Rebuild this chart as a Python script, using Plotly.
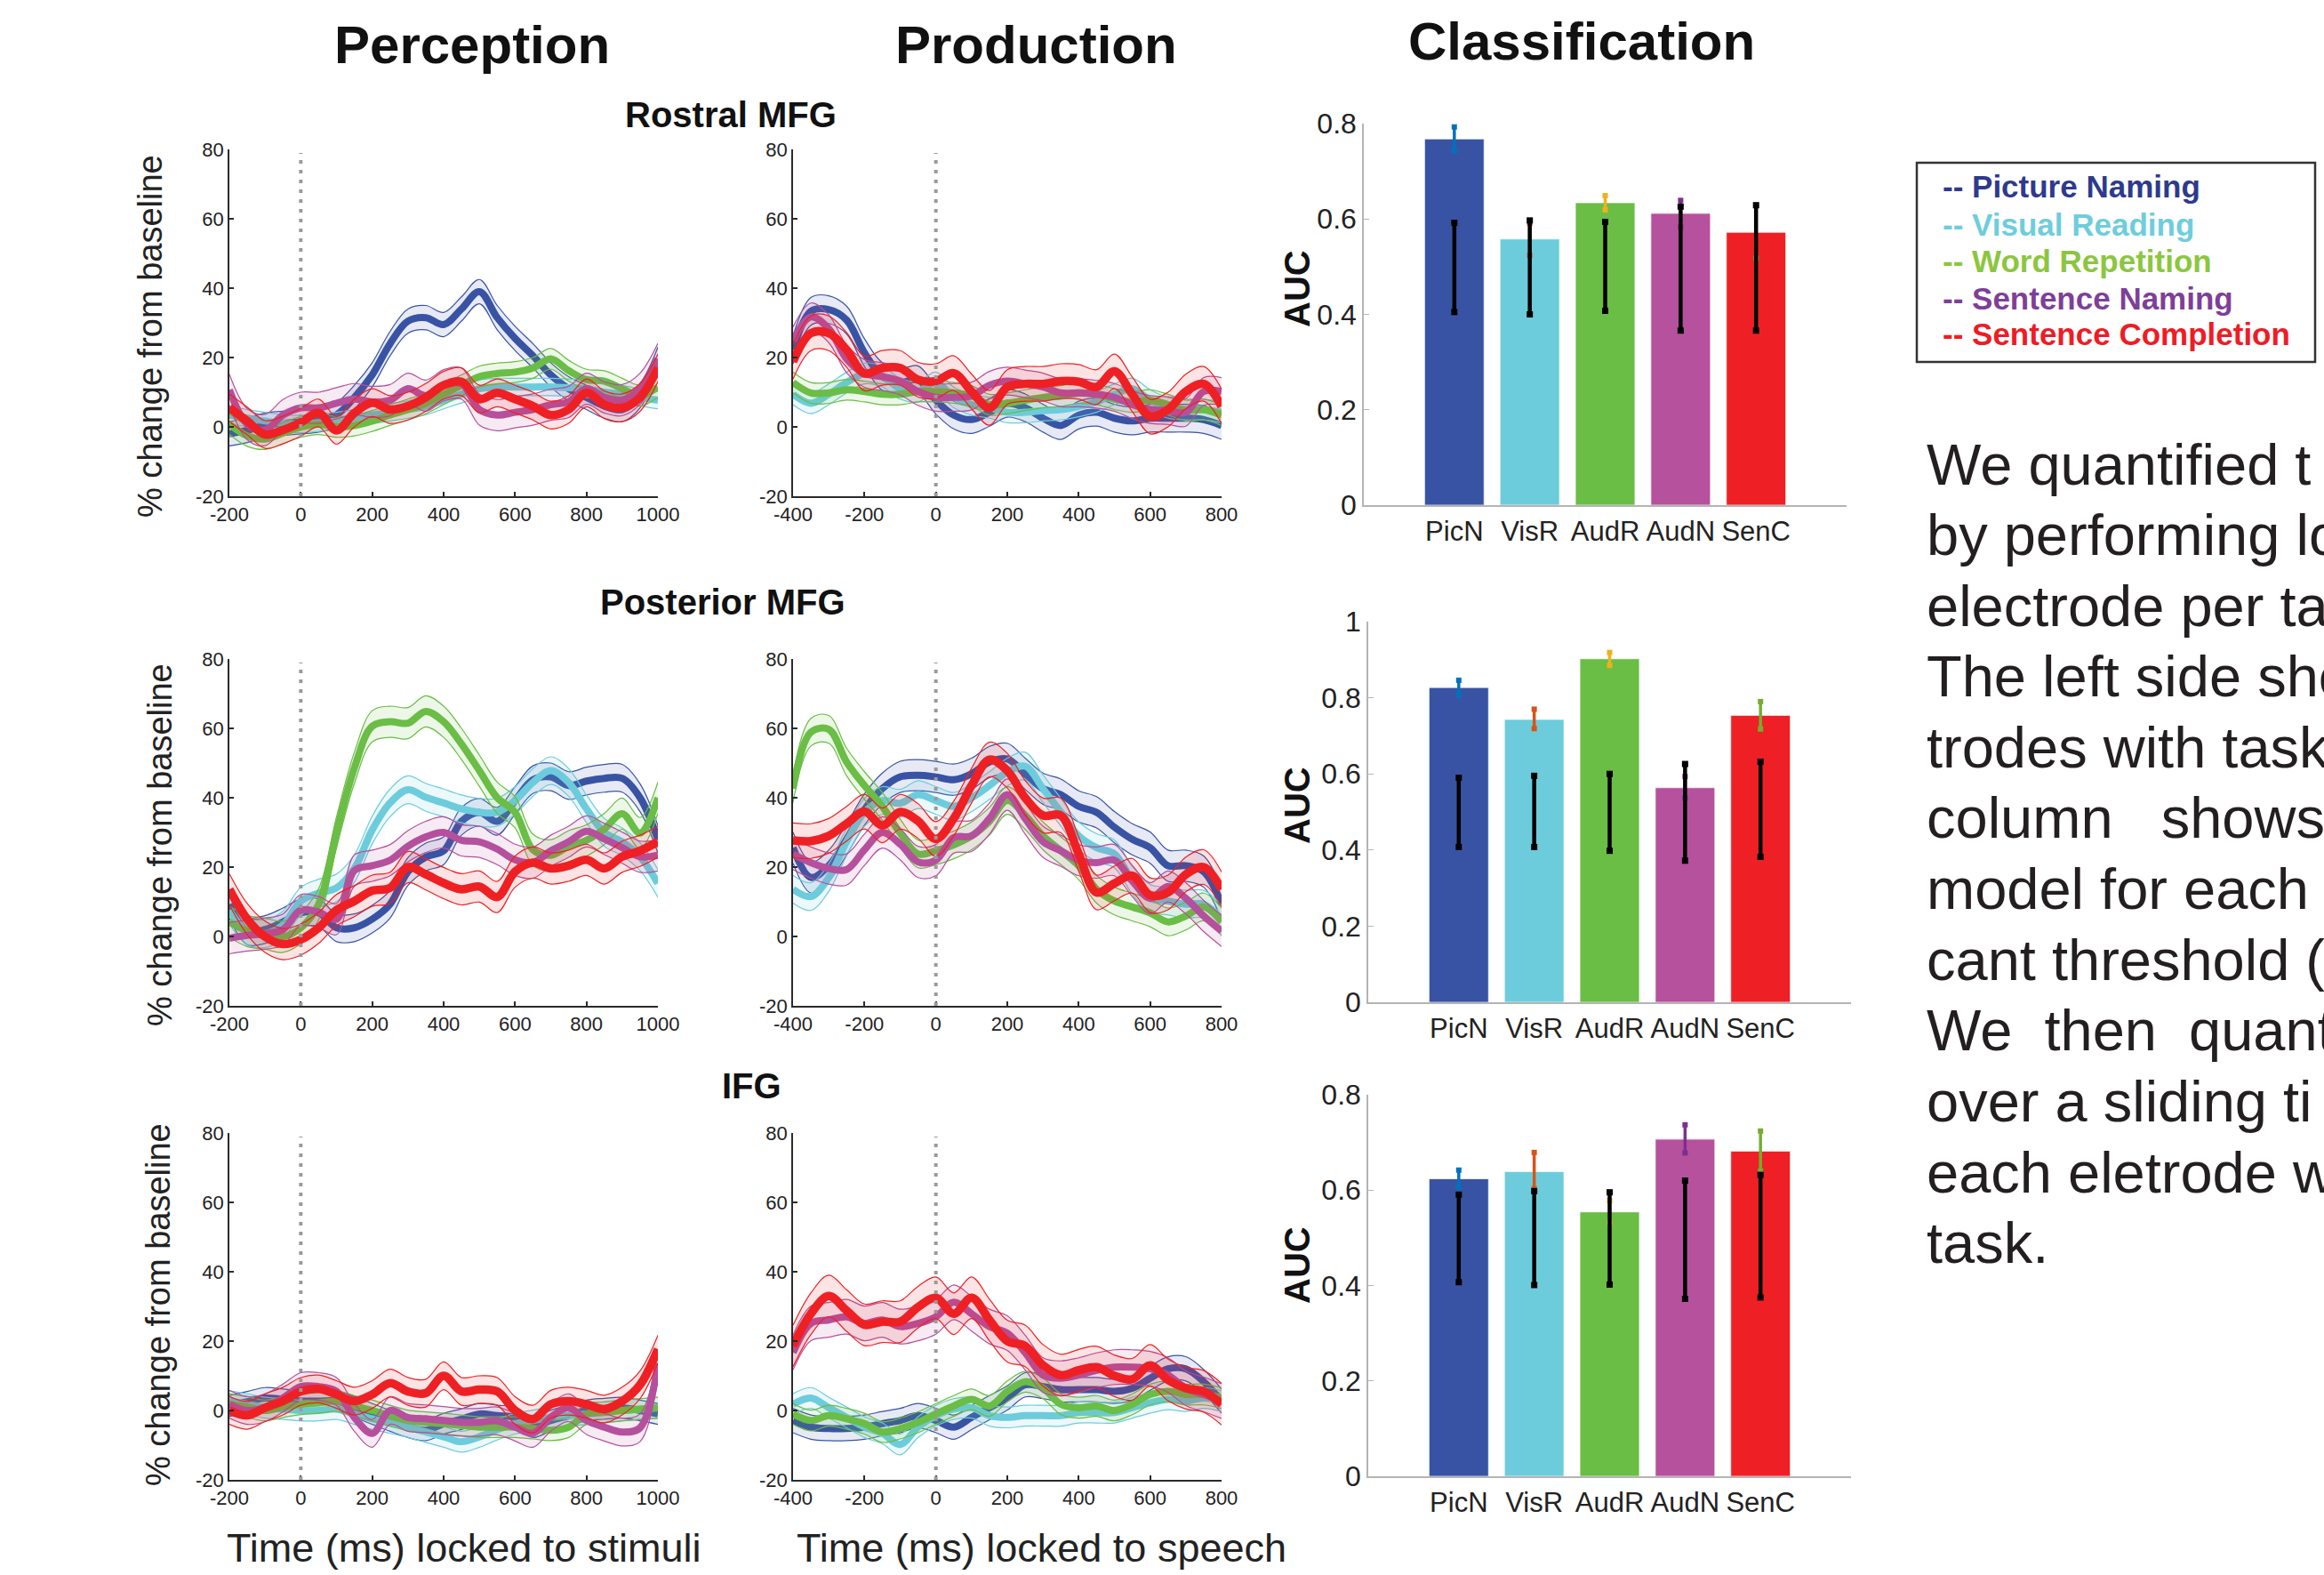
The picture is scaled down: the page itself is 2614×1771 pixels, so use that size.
import plotly.graph_objects as go

W, H = 2614, 1771

# ---------------- time axes ----------------
t_perc = list(range(-200, 1001, 50))
t_prod = list(range(-400, 801, 50))

tasks = ["Picture Naming", "Visual Reading", "Word Repetition", "Sentence Naming", "Sentence Completion"]

# ---------------- Perception, Rostral MFG ----------------
perc_rostral_picn = [-2, -1, 0.5, 1, 1.5, 2, 3.5, 8.5, 15, 24, 30.5, 31.5, 29.5, 34, 39, 31.5, 25.5, 20.5, 15, 11, 8.5, 6, 5, 9, 19.5]
perc_rostral_visr = [3.4, 2.5, 1.7, 1, 0.8, 1.2, 1.7, 2.5, 3.4, 4.2, 5, 6, 7.7, 9.4, 11, 11.5, 11.5, 11.5, 11.5, 11.3, 11, 10, 9.4, 8.5, 7.7]
perc_rostral_audr = [0.8, -2.6, -3.5, -1.8, 0, 0.8, 0, 0.4, 1.7, 3.4, 5, 6.8, 9.4, 12, 14.5, 15.4, 15.8, 17, 19.6, 16.2, 13.6, 13.2, 11, 9, 11.5]
perc_rostral_audn = [10.7, 0.8, -0.9, 3.4, 5.5, 5.5, 6.8, 8, 7.2, 7.7, 11, 9, 12, 12.5, 5, 3.4, 4.2, 5, 6.4, 7.2, 11, 8.5, 7.7, 11, 19.6]
perc_rostral_senc = [5.5, 1.7, -2.2, -0.9, 1.3, 4, -1, 4, 7, 5, 6, 8.5, 12, 13, 8, 9.8, 8, 6, 3.4, 5, 9.8, 6.4, 5.5, 8.5, 17]
sem_perc_rostral = [3.5, 2.5, 3.0, 4.5, 4.0]

# ---------------- Production, Rostral MFG ----------------
prod_rostral_picn = [22.2, 33.3, 33.8, 30.8, 21.4, 14.5, 12.8, 13.6, 7.7, 3.4, 2.1, 4.2, 6.8, 5.5, 2.5, 0.4, 3.4, 4.2, 2.5, 1.7, 2.5, 2.5, 2.5, 2.1, 0.4]
prod_rostral_visr = [9.4, 6.8, 9.4, 12.8, 15.4, 14.5, 11, 10.2, 12.8, 8.5, 6.4, 5.5, 4.2, 4.2, 4.7, 5, 5.9, 7.2, 9.4, 11, 7.7, 5.5, 5, 5, 4.2]
prod_rostral_audr = [12.8, 9.8, 9.8, 10.7, 10.2, 9.4, 9.4, 10.2, 10.2, 9.8, 8.9, 6.4, 6.8, 7.7, 8.5, 8.9, 9.8, 9.4, 8, 7.2, 7.7, 6.4, 4.7, 5, 3.4]
prod_rostral_audn = [24.8, 31.7, 28.3, 19.6, 15.4, 14.5, 13.2, 10.2, 8.5, 8.5, 8.9, 12, 13.2, 12.4, 11.5, 9.8, 9.8, 9.4, 8.5, 6.4, 5, 4.7, 4.2, 10.2, 10.2]
prod_rostral_senc = [18.8, 27, 27, 22.2, 15.4, 17, 17, 13.6, 13.2, 15.5, 10.2, 5.5, 11.5, 12.4, 12.4, 13.2, 13, 11.5, 16, 9.4, 3, 5, 10.2, 12.4, 5.9]
sem_prod_rostral = [4.0, 3.0, 3.0, 4.0, 5.0]

# ---------------- Perception, Posterior MFG ----------------
perc_posterior_picn = [9.3, 1.6, 2, 4.2, 6.8, 6.8, 2.5, 2.5, 5, 9.3, 18.7, 22.9, 24.7, 33.2, 35.8, 33.2, 39.2, 45.2, 46, 43.5, 44.8, 45.6, 45.6, 40, 28]
perc_posterior_visr = [7.6, 1.6, 0.8, 3.3, 10.2, 12.5, 14, 19.6, 30.7, 38.5, 42.3, 40.1, 38.5, 36.8, 35.8, 35.8, 39.2, 44.4, 47.8, 44.4, 36.8, 30, 27.3, 23, 15.3]
perc_posterior_audr = [4.2, 1.6, 0.8, -0.1, 2.5, 9.3, 30, 48.6, 60.6, 61.9, 61.5, 64.9, 61.9, 55.5, 47.8, 40, 35.8, 25, 23.4, 26, 27.7, 31, 35.4, 29.8, 40]
perc_posterior_audn = [-0.5, 0.3, 0.8, 2, 7.6, 7, 5, 19, 20.4, 22, 26, 28.7, 30, 27.7, 27.3, 25.2, 22.1, 21.3, 24.7, 27.3, 30.3, 28.1, 25.6, 23, 23.4]
perc_posterior_senc = [13.6, 5, -0.1, -2.2, -0.9, 2.5, 7.6, 10.2, 13.2, 14, 20, 17.9, 15.4, 13.6, 14.4, 11.4, 18.7, 21.3, 19.6, 20.4, 22.1, 19.6, 23, 24.7, 27.3]
sem_perc_posterior = [4.0, 4.0, 4.5, 4.5, 4.5]

# ---------------- Production, Posterior MFG ----------------
prod_posterior_picn = [25.6, 17, 20.4, 28, 36.6, 42.6, 46, 46.5, 46, 45.2, 46.9, 50.3, 51.2, 46.9, 42.6, 40.9, 37.5, 35.8, 31.5, 28, 25.6, 20.4, 20.4, 18.7, 9.3]
prod_posterior_visr = [13.6, 11.5, 17, 27.3, 35.8, 39.2, 38.4, 40.9, 39.2, 37.5, 40, 43.5, 47.4, 49.1, 42.6, 35.8, 29, 25.6, 23.8, 16.2, 11, 10.2, 9.3, 9.3, 5]
prod_posterior_audr = [42.6, 58.9, 59.7, 50.3, 43.5, 37.5, 29.8, 23.8, 24.7, 26.4, 29, 33.2, 39.2, 34.9, 29, 24.7, 20.4, 13.6, 10.2, 8.5, 6.8, 4.2, 5.9, 8.5, 4.2]
prod_posterior_audn = [23.8, 21.3, 19.6, 19.3, 25, 30, 26.6, 21.5, 22, 28.5, 29, 34, 40.9, 34, 27.3, 24.7, 22, 21.3, 22, 16, 11, 14.4, 11, 5.9, 1.6]
prod_posterior_senc = [27.7, 27.5, 29, 32.5, 36, 32, 35.9, 33.3, 28.1, 34, 43.5, 51, 47.8, 40, 34.9, 34.9, 23.8, 12.7, 15.3, 17.5, 11.9, 12.7, 17.9, 20, 13.6]
sem_prod_posterior = [4.5, 4.0, 4.0, 4.5, 5.0]

# ---------------- Perception, IFG ----------------
perc_ifg_picn = [1.3, 2.5, 3.6, 3.2, 2.7, 2.7, 2.7, 1, -1, -3, -4.8, -5.7, -3.8, -2.5, -1, -1.5, -2, -4.8, -2.9, -1.5, 0, 0.5, 0.8, 0, -1]
perc_ifg_visr = [2.7, 1.8, 0.8, 0.4, 0, 0, 0.4, -1, -2.4, -3.6, -4.8, -6.2, -7.6, -9, -7.6, -5.5, -3.8, -2.9, -2, -1.5, -1, -0.5, 0, 0.4, 0.8]
perc_ifg_audr = [1.8, 1, 0, 1, 1.8, 2.2, 2.7, 1.3, 0, -1.5, -2.9, -3.4, -3.8, -4.3, -4.8, -4.8, -4.8, -5.2, -5.7, -4.8, -1, -0.5, 0, 0.4, 0.8]
perc_ifg_audn = [1.8, 0, 0.8, 3.6, 6.9, 6.9, 5.5, -2, -6.6, 0, -2, -2.4, -2.9, -3.4, -3.4, -3, -4.8, -6.6, -2, 0.8, -2.9, -4.8, -6.2, -5, 13.5]
perc_ifg_senc = [0, -1.4, 0.8, 2.7, 5.5, 6.2, 4.6, 2.7, 4.6, 7.9, 5.5, 5, 10, 5.5, 6, 5.5, 0, -2.5, 1.8, 2.7, 1.8, 0.4, 2.7, 7.4, 17.7]
sem_perc_ifg = [3.0, 3.0, 3.0, 4.0, 4.0]

# ---------------- Production, IFG ----------------
prod_ifg_picn = [-2.9, -4.8, -5.2, -5.2, -4.8, -3.8, -2.9, -1.5, -2.9, -4.8, -2, 0.8, 3.6, 7.4, 6.9, 6, 6, 6, 5.5, 6.4, 9.3, 12, 12, 8.3, 2.7]
prod_ifg_visr = [1.8, 3.6, 0.8, -2, -4.8, -6.6, -9.8, -4.8, -1.5, 0.4, 0.8, -1.5, -2, -1.5, -1.5, -1.5, -0.6, -0.6, -0.6, 0.8, 2.2, 3.2, 2.7, 3.6, 2.7]
prod_ifg_audr = [-1, -2.9, -1.5, -2.4, -3.8, -6.2, -5.2, -3.4, -1, 1.3, 3.2, 1.3, 5.5, 8.3, 6.4, 1.8, 0.8, 1.3, 0, 1.8, 4.6, 5.5, 4.6, 4.6, 3.6]
prod_ifg_audn = [16.7, 25.1, 26.1, 27, 25.1, 26.1, 24.2, 25.1, 27, 31.2, 27.9, 24.2, 22.3, 16.7, 10.2, 9.3, 10.2, 11.6, 12.5, 12.5, 12, 10.2, 6.4, 4.6, 2.7]
prod_ifg_senc = [18.6, 27.9, 33, 28.8, 24.7, 25.6, 25.6, 29.8, 32.5, 27.9, 32.5, 26.1, 20, 18.6, 13, 10.2, 11.6, 12.5, 10, 9, 13, 8.8, 6.4, 5.5, 1.8]
sem_prod_ifg = [3.5, 3.0, 3.0, 5.0, 6.0]

# ---------------- Classification (AUC) ----------------
bar_cats = ["PicN", "VisR", "AudR", "AudN", "SenC"]
auc_rostral = [0.768, 0.558, 0.634, 0.612, 0.572]
auc_posterior = [0.827, 0.743, 0.9025, 0.564, 0.754]
auc_ifg = [0.624, 0.639, 0.5545, 0.707, 0.682]

ci_rostral_lo = [0.743, 0.524, 0.619, 0.583, 0.518]
ci_rostral_hi = [0.793, 0.591, 0.649, 0.639, 0.628]
ci_posterior_lo = [0.807, 0.719, 0.885, 0.537, 0.718]
ci_posterior_hi = [0.846, 0.770, 0.919, 0.593, 0.790]
ci_ifg_lo = [0.606, 0.603, 0.533, 0.678, 0.640]
ci_ifg_hi = [0.642, 0.679, 0.578, 0.737, 0.724]

chance_rostral_lo = [0.405, 0.400, 0.4075, 0.366, 0.366]
chance_rostral_hi = [0.592, 0.597, 0.594, 0.626, 0.629]
chance_posterior_lo = [0.408, 0.408, 0.398, 0.372, 0.382]
chance_posterior_hi = [0.590, 0.595, 0.600, 0.626, 0.632]
chance_ifg_lo = [0.407, 0.401, 0.402, 0.372, 0.375]
chance_ifg_hi = [0.5905, 0.598, 0.5955, 0.620, 0.632]

body_lines = ["We quantified t", "by performing lo", "electrode per ta", "The left side sho",
              "trodes with task", "column\u00a0\u00a0\u00a0shows", "model for each", "cant threshold (",
              "We\u00a0\u00a0then\u00a0\u00a0quant", "over a sliding ti", "each eletrode w", "task."]

# ---------------- styles ----------------
FONT = "Liberation Sans, Arial, Helvetica, sans-serif"
line_colors = ["#3953A4", "#6CCCDC", "#6ABD45", "#B5509D", "#EE2024"]
band_fills = ["rgba(57,83,164,0.12)", "rgba(108,204,220,0.13)", "rgba(106,189,69,0.12)",
              "rgba(181,80,157,0.12)", "rgba(238,32,36,0.12)"]
bar_colors = ["#3953A4", "#6DCCDC", "#6ABD45", "#B5519D", "#EE2025"]
ci_colors = ["#0072BD", "#D95319", "#EDB120", "#7E2F8E", "#77AC30"]
legend_colors = ["#2E3A8C", "#6ECDDC", "#8CC63F", "#7E3F98", "#EE1C25"]


def dom_x(a, b):
    return [a / W, b / W]


def dom_y(a, b):
    return [1 - b / H, 1 - a / H]


def tick_text(vals):
    # hyphen-minus as in the reference (not the typographic minus)
    return [str(v) for v in vals]


fig = go.Figure()
layout = dict(template="none", width=W, height=H, autosize=False, margin=dict(l=0, r=0, t=0, b=0, pad=0),
              paper_bgcolor="white", plot_bgcolor="white", showlegend=False,
              font=dict(family=FONT, color="#222222"))
shapes = []
annotations = []

row_y = [(168, 558), (741, 1131), (1274, 1664)]
perc_x = (258, 740)
prod_x = (892, 1374)

line_panels = [
    (1, t_perc, [perc_rostral_picn, perc_rostral_visr, perc_rostral_audr, perc_rostral_audn, perc_rostral_senc], sem_perc_rostral, perc_x, row_y[0], [-200, 1000]),
    (2, t_prod, [prod_rostral_picn, prod_rostral_visr, prod_rostral_audr, prod_rostral_audn, prod_rostral_senc], sem_prod_rostral, prod_x, row_y[0], [-400, 800]),
    (3, t_perc, [perc_posterior_picn, perc_posterior_visr, perc_posterior_audr, perc_posterior_audn, perc_posterior_senc], sem_perc_posterior, perc_x, row_y[1], [-200, 1000]),
    (4, t_prod, [prod_posterior_picn, prod_posterior_visr, prod_posterior_audr, prod_posterior_audn, prod_posterior_senc], sem_prod_posterior, prod_x, row_y[1], [-400, 800]),
    (5, t_perc, [perc_ifg_picn, perc_ifg_visr, perc_ifg_audr, perc_ifg_audn, perc_ifg_senc], sem_perc_ifg, perc_x, row_y[2], [-200, 1000]),
    (6, t_prod, [prod_ifg_picn, prod_ifg_visr, prod_ifg_audr, prod_ifg_audn, prod_ifg_senc], sem_prod_ifg, prod_x, row_y[2], [-400, 800]),
]

AX = "#2a2a2a"
ytv = [-20, 0, 20, 40, 60, 80]
for k, t, series, sems, (x0, x1), (y0, y1), xr in line_panels:
    xa, ya = f"x{k}", f"y{k}"
    xtv = list(range(xr[0], xr[1] + 1, 200))
    layout[f"xaxis{k}"] = dict(domain=dom_x(x0, x1), range=xr, anchor=ya, automargin=False,
                               tickvals=xtv, ticktext=tick_text(xtv),
                               ticks="inside", ticklen=5, tickwidth=1.5, tickcolor=AX,
                               showline=True, linecolor=AX, linewidth=1.6,
                               showgrid=False, zeroline=False,
                               tickfont=dict(size=22, color="#222", family=FONT))
    layout[f"yaxis{k}"] = dict(domain=dom_y(y0, y1), range=[-20, 80], anchor=xa, automargin=False,
                               tickvals=ytv, ticktext=tick_text(ytv),
                               ticks="inside", ticklen=5, tickwidth=1.5, tickcolor=AX,
                               showline=True, linecolor=AX, linewidth=1.6,
                               showgrid=False, zeroline=False,
                               tickfont=dict(size=22, color="#222", family=FONT))
    for i, mean in enumerate(series):
        s = sems[i]
        lo = [m - s for m in mean]
        hi = [m + s for m in mean]
        col = line_colors[i]
        fig.add_trace(go.Scatter(x=t, y=lo, mode="lines", xaxis=xa, yaxis=ya,
                                 line=dict(color=col, width=1.2, shape="spline"), hoverinfo="skip"))
        fig.add_trace(go.Scatter(x=t, y=hi, mode="lines", xaxis=xa, yaxis=ya, fill="tonexty",
                                 fillcolor=band_fills[i],
                                 line=dict(color=col, width=1.2, shape="spline"), hoverinfo="skip"))
        fig.add_trace(go.Scatter(x=t, y=mean, mode="lines", xaxis=xa, yaxis=ya, name=tasks[i],
                                 line=dict(color=col, width=9.5 if i == 4 else 8, shape="spline")))
    shapes.append(dict(type="line", xref=xa, yref=ya, x0=0, x1=0, y0=-20, y1=79, layer="above",
                       line=dict(color="#9a9a9a", width=4, dash="4px,7px")))

# ---------------- bar panels ----------------
bar_panels = [
    (7, auc_rostral, ci_rostral_lo, ci_rostral_hi, chance_rostral_lo, chance_rostral_hi, (1534, 2077), (139, 568), 0.8),
    (8, auc_posterior, ci_posterior_lo, ci_posterior_hi, chance_posterior_lo, chance_posterior_hi, (1539, 2082), (699, 1127), 1.0),
    (9, auc_ifg, ci_ifg_lo, ci_ifg_hi, chance_ifg_lo, chance_ifg_hi, (1539, 2082), (1231, 1660), 0.8),
]
BAX = "#b4b4b4"
xpos = [1, 2, 3, 4, 5]
for k, auc, clo, chi, blo, bhi, (x0, x1), (y0, y1), ymax in bar_panels:
    xa, ya = f"x{k}", f"y{k}"
    yt = [0, 0.2, 0.4, 0.6, 0.8] + ([1.0] if ymax == 1.0 else [])
    ytt = ["0", "0.2", "0.4", "0.6", "0.8"] + (["1"] if ymax == 1.0 else [])
    layout[f"xaxis{k}"] = dict(domain=dom_x(x0, x1), range=[-0.2, 6.2], anchor=ya, automargin=False,
                               tickvals=xpos, ticktext=bar_cats, ticks="", ticklabelstandoff=1,
                               showline=True, linecolor=BAX, linewidth=1.8,
                               showgrid=False, zeroline=False,
                               tickfont=dict(size=31, color="#222", family=FONT))
    layout[f"yaxis{k}"] = dict(domain=dom_y(y0, y1), range=[0, ymax], anchor=xa, automargin=False,
                               tickvals=yt, ticktext=ytt,
                               ticks="inside", ticklen=6, tickwidth=1.3, tickcolor=BAX,
                               showline=True, linecolor=BAX, linewidth=1.5,
                               showgrid=False, zeroline=False,
                               tickfont=dict(size=32, color="#222", family=FONT))
    fig.add_trace(go.Bar(x=xpos, y=auc, width=0.79, xaxis=xa, yaxis=ya,
                         marker=dict(color=bar_colors, line=dict(color="rgba(255,255,255,0.7)", width=1.2))))
    for i in range(5):
        fig.add_trace(go.Scatter(x=[xpos[i], xpos[i]], y=[clo[i], chi[i]], mode="lines+markers",
                                 xaxis=xa, yaxis=ya, line=dict(color=ci_colors[i], width=3.5),
                                 marker=dict(symbol="square", size=6, color=ci_colors[i]),
                                 hoverinfo="skip"))
    for i in range(5):
        fig.add_trace(go.Scatter(x=[xpos[i], xpos[i]], y=[blo[i], bhi[i]], mode="lines+markers",
                                 xaxis=xa, yaxis=ya, line=dict(color="black", width=4.5),
                                 marker=dict(symbol="square", size=7, color="black"),
                                 hoverinfo="skip"))


def ann(text, px, py, size, bold=False, color="#111", angle=0, xanchor="center", yanchor="middle"):
    annotations.append(dict(text=f"<b>{text}</b>" if bold else text, xref="paper", yref="paper",
                            x=px / W, y=1 - py / H, xanchor=xanchor, yanchor=yanchor,
                            showarrow=False, textangle=angle,
                            font=dict(family=FONT, size=size, color=color)))


# column titles
ann("Perception", 531, 50, 60, bold=True)
ann("Production", 1165, 50, 60, bold=True)
ann("Classification", 1779, 46, 60, bold=True)
# region titles
ann("Rostral MFG", 822, 129, 40, bold=True)
ann("Posterior MFG", 813, 677, 40, bold=True)
ann("IFG", 845, 1221, 40, bold=True)
# y labels
ann("% change from baseline", 169, 378, 38, color="#222", angle=-90)
ann("% change from baseline", 180, 950, 38, color="#222", angle=-90)
ann("% change from baseline", 178, 1467, 38, color="#222", angle=-90)
# AUC labels
ann("AUC", 1459, 325, 40, bold=True, angle=-90)
ann("AUC", 1459, 906, 40, bold=True, angle=-90)
ann("AUC", 1459, 1423, 40, bold=True, angle=-90)
# x labels
ann("Time (ms) locked to stimuli", 521, 1740, 45, color="#222")
ann("Time (ms) locked to speech", 1171, 1740, 45, color="#222")

# legend box
shapes.append(dict(type="rect", xref="paper", yref="paper", x0=2156 / W, x1=2604 / W,
                   y0=1 - 407 / H, y1=1 - 183 / H, line=dict(color="#333", width=2.5),
                   fillcolor="rgba(0,0,0,0)"))
leg_y = [210, 252, 293, 335, 375]
for i, name in enumerate(tasks):
    ann("-- " + name, 2183, leg_y[i], 35, bold=True, color=legend_colors[i], xanchor="left")

# body text (justified paragraph, cut by the right edge in the reference)
for j, line in enumerate(body_lines):
    ann(line, 2165, 522 + 79.6 * j, 65, color="#231f20", xanchor="left")

layout["shapes"] = shapes
layout["annotations"] = annotations
fig.update_layout(**layout)
fig.write_html("out.html", config={"displayModeBar": False},
               post_script="document.body.style.margin='0px';document.body.style.padding='0px';")
